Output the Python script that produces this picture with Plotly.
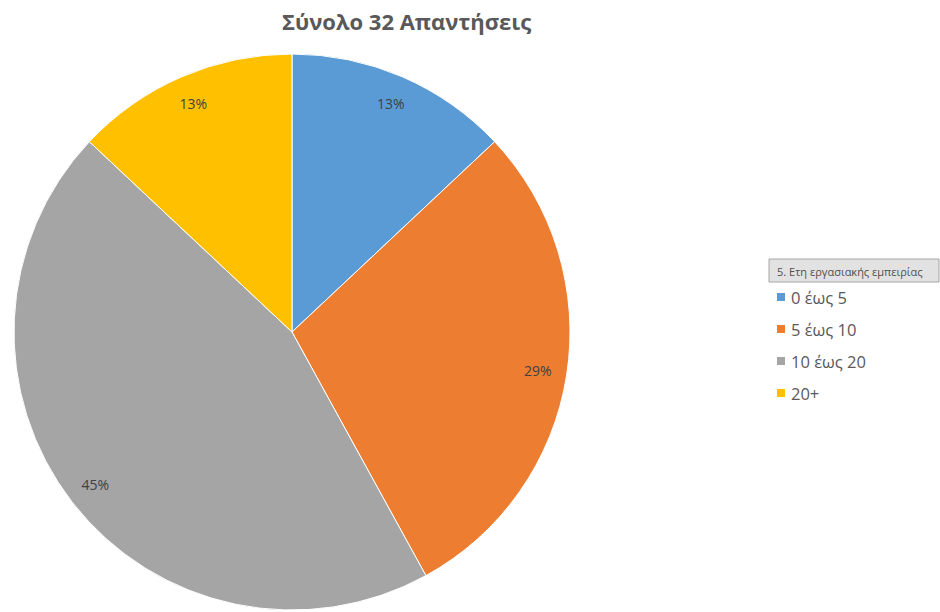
import plotly.graph_objects as go

# Years of work experience, share of 32 responses
categories = ["0 έως 5", "5 έως 10", "10 έως 20", "20+"]
shares = [13, 29, 45, 13]
colors = ["#5B9BD5", "#ED7D31", "#A5A5A5", "#FFC000"]
title_text = "Σύνολο 32 Απαντήσεις"
legend_title = "5. Ετη εργασιακής εμπειρίας"

W, H = 940, 612
cx, cy, r = 292, 332, 278
dom_x = [(cx - r) / W, (cx + r) / W]
dom_y = [(H - cy - r) / H, (H - cy + r) / H]

fig = go.Figure()

# Main pie
fig.add_trace(go.Pie(
    labels=categories, values=shares, sort=False, direction="clockwise",
    rotation=0, marker=dict(colors=colors, line=dict(color="white", width=1)),
    textinfo="none", domain=dict(x=dom_x, y=dom_y), showlegend=False,
    hovertemplate="%{label}: %{value}%<extra></extra>",
))

# Transparent ring that carries the percentage labels near the outer edge
fig.add_trace(go.Pie(
    labels=categories, values=shares, sort=False, direction="clockwise",
    rotation=0, hole=0.79,
    marker=dict(colors=["rgba(0,0,0,0)"] * len(shares), line=dict(width=0)),
    texttemplate="%{value}%", textposition="inside",
    insidetextorientation="horizontal",
    textfont=dict(family="Open Sans", size=14, color="#404040"),
    domain=dict(x=dom_x, y=dom_y), showlegend=False, hoverinfo="skip",
))

# Title
fig.add_annotation(
    text=f"<b>{title_text}</b>", x=406 / W, y=1 - 21 / H, xref="paper", yref="paper",
    showarrow=False, xanchor="center", yanchor="middle",
    font=dict(family="Open Sans", size=22, color="#595959"),
)

# Legend: header box, then one swatch + label per category
fig.add_shape(
    type="rect", xref="paper", yref="paper",
    x0=769 / W, x1=939 / W, y0=1 - 282 / H, y1=1 - 259 / H,
    line=dict(color="#a6a6a6", width=1), fillcolor="#e2e2e2", layer="above",
)
fig.add_annotation(
    text=legend_title, x=775 / W, y=1 - 271 / H, xref="paper", yref="paper",
    showarrow=False, xanchor="left", yanchor="middle",
    font=dict(family="Open Sans", size=11, color="#505050"),
)
for i, (cat, col) in enumerate(zip(categories, colors)):
    yc = 297 + 32 * i
    fig.add_shape(
        type="rect", xref="paper", yref="paper",
        x0=777 / W, x1=785 / W, y0=1 - (yc + 4) / H, y1=1 - (yc - 4) / H,
        line=dict(width=0), fillcolor=col,
    )
    fig.add_annotation(
        text=cat, x=789 / W, y=1 - yc / H, xref="paper", yref="paper",
        showarrow=False, xanchor="left", yanchor="middle",
        font=dict(family="Open Sans", size=16.5, color="#595959"),
    )

fig.update_layout(
    width=W, height=H, margin=dict(l=0, r=0, t=0, b=0),
    paper_bgcolor="white", plot_bgcolor="white", showlegend=False,
)

fig.write_html("out.html")
